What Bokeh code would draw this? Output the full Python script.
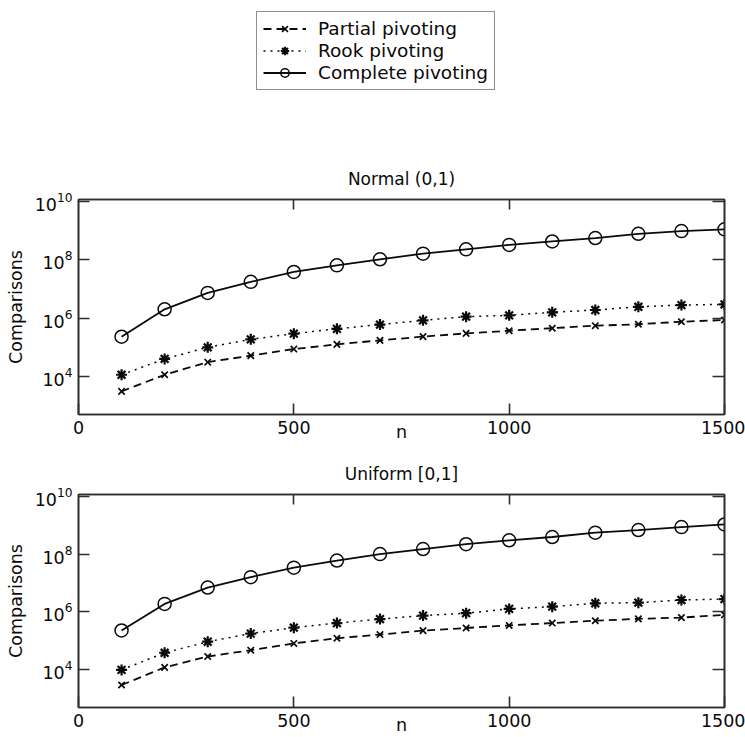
from bokeh.plotting import figure
from bokeh.models import Legend, LegendItem, LinearAxis, LogAxis, FixedTicker, LogTickFormatter
from bokeh.layouts import column
from bokeh.embed import file_html
from bokeh.resources import INLINE

# ---------------- data ----------------
n = [100, 200, 300, 400, 500, 600, 700, 800, 900, 1000, 1100, 1200, 1300, 1400, 1500]

normal_partial = [3.1e3, 1.15e4, 3.1e4, 5.2e4, 8.7e4, 1.26e5, 1.73e5, 2.32e5, 3.0e5,
                  3.7e5, 4.5e5, 5.5e5, 6.15e5, 7.5e5, 8.6e5]
normal_rook = [1.15e4, 4.0e4, 1.0e5, 1.87e5, 2.94e5, 4.3e5, 6.0e5, 8.4e5, 1.12e6,
               1.24e6, 1.58e6, 1.89e6, 2.44e6, 2.79e6, 2.95e6]
normal_complete = [2.3e5, 2.0e6, 7.3e6, 1.74e7, 3.8e7, 6.4e7, 1.03e8, 1.61e8, 2.26e8,
                   3.2e8, 4.2e8, 5.5e8, 7.7e8, 9.5e8, 1.09e9]

uniform_partial = [3.0e3, 1.22e4, 2.9e4, 4.8e4, 8.2e4, 1.24e5, 1.66e5, 2.27e5, 2.8e5,
                   3.44e5, 4.15e5, 5.0e5, 5.8e5, 6.4e5, 8.0e5]
uniform_rook = [1.0e4, 3.9e4, 9.4e4, 1.8e5, 2.87e5, 4.15e5, 5.7e5, 7.5e5, 9.1e5,
                1.28e6, 1.53e6, 2.0e6, 2.1e6, 2.6e6, 2.8e6]
uniform_complete = [2.3e5, 1.9e6, 7.0e6, 1.6e7, 3.4e7, 6.0e7, 1.0e8, 1.5e8, 2.2e8,
                    3.0e8, 3.9e8, 5.5e8, 6.8e8, 8.6e8, 1.06e9]

series_names = ["Partial pivoting", "Rook pivoting", "Complete pivoting"]
panel_titles = ["Normal (0,1)", "Uniform [0,1]"]
x_ticks = [0, 500, 1000, 1500]
inner_x_ticks = [500, 1000]
y_ticks = [1e4, 1e6, 1e8, 1e10]
x_label = "n"
y_label = "Comparisons"

FONT = "DejaVu Sans"
INK = "#0a0a0a"
FRAME = "#2e2e2e"

STYLES = {
    "Partial pivoting": dict(dash="8 5", marker="x", size=9, mlw=1.7, lw=1.8),
    "Rook pivoting": dict(dash="2 5", marker="asterisk", size=11, mlw=2.2, lw=1.5),
    "Complete pivoting": dict(dash="solid", marker="circle", size=13, mlw=1.5, lw=1.8),
}


def draw_series(p, xs, ys, name):
    st = STYLES[name]
    r_line = p.line(xs, ys, line_color=INK, line_width=st["lw"], line_dash=st["dash"])
    r_mark = p.scatter(xs, ys, marker=st["marker"], size=st["size"],
                       line_color=INK, fill_color=INK if st["marker"] != "circle" else None,
                       line_width=st["mlw"])
    return [r_line, r_mark]


def make_panel(title, partial, rook, complete, height, top, bottom, title_gap):
    p = figure(width=745, height=height, x_range=(0, 1500),
               y_range=(10 ** 2.70, 10 ** 10.06), y_axis_type="log",
               toolbar_location=None, output_backend="svg",
               min_border_left=78, min_border_right=21,
               min_border_top=top, min_border_bottom=bottom,
               background_fill_color="white", border_fill_color="white")
    p.outline_line_color = FRAME
    p.outline_line_width = 1.6
    p.grid.visible = False

    p.title.text = title
    p.title.align = "center"
    p.title.text_font = FONT
    p.title.text_font_size = "17px"
    p.title.text_font_style = "normal"
    p.title.text_color = INK
    p.title.standoff = title_gap

    for ax in p.xaxis:
        ax.ticker = FixedTicker(ticks=x_ticks)
        ax.axis_label = x_label
        ax.axis_label_standoff = -15
    for ax in p.yaxis:
        ax.ticker = FixedTicker(ticks=y_ticks)
        ax.formatter = LogTickFormatter()
        ax.axis_label = y_label
        ax.axis_label_standoff = 6

    for ax in p.xaxis + p.yaxis:
        ax.axis_line_color = FRAME
        ax.axis_line_width = 1.6
        ax.major_tick_in = 11
        ax.major_tick_out = 0
        ax.major_tick_line_color = FRAME
        ax.major_tick_line_width = 1.6
        ax.minor_tick_line_color = None
        ax.major_label_standoff = 6
        ax.major_label_text_font = FONT
        ax.major_label_text_font_size = "17.5px"
        ax.major_label_text_color = INK
        ax.axis_label_text_font = FONT
        ax.axis_label_text_font_size = "17.5px"
        ax.axis_label_text_font_style = "normal"
        ax.axis_label_text_color = INK

    # tick-only axes on the top and right sides (labels not drawn)
    top_axis = LinearAxis(ticker=FixedTicker(ticks=inner_x_ticks),
                          major_label_text_font_size="1px", major_label_text_color=None,
                          major_label_standoff=0,
                          major_tick_in=10, major_tick_out=0, major_tick_line_width=1.6,
                          major_tick_line_color=FRAME, minor_tick_line_color=None,
                          axis_line_color=FRAME, axis_line_width=1.6)
    p.add_layout(top_axis, "above")
    right_axis = LogAxis(ticker=FixedTicker(ticks=y_ticks),
                         major_label_text_font_size="1px", major_label_text_color=None,
                         major_label_standoff=0,
                         major_tick_in=12, major_tick_out=0, major_tick_line_width=1.6,
                         major_tick_line_color=FRAME, minor_tick_line_color=None,
                         axis_line_color=FRAME, axis_line_width=1.6)
    p.add_layout(right_axis, "right")

    draw_series(p, n, partial, series_names[0])
    draw_series(p, n, rook, series_names[1])
    draw_series(p, n, complete, series_names[2])
    return p


# ---------------- legend strip ----------------
leg_fig = figure(width=745, height=150, x_range=(0, 1), y_range=(0, 1),
                 x_axis_location=None, y_axis_location=None,
                 toolbar_location=None, output_backend="svg",
                 min_border=0, outline_line_color=None)
leg_fig.grid.visible = False
items = []
for name in series_names:
    st = STYLES[name]
    # key renderers only (placed outside the visible range)
    rl = leg_fig.line(x=[5, 6], y=[5, 6], line_color=INK, line_width=st["lw"], line_dash=st["dash"])
    rm = leg_fig.scatter(x=[5], y=[5], marker=st["marker"], size=st["size"], line_color=INK,
                         fill_color=INK if st["marker"] != "circle" else None,
                         line_width=st["mlw"])
    items.append(LegendItem(label=name, renderers=[rl, rm]))
legend = Legend(items=items, location=(178, 60), orientation="vertical",
                border_line_color="#222222", border_line_width=1.5,
                background_fill_color="white", background_fill_alpha=1.0,
                label_text_font=FONT, label_text_font_size="18.5px", label_text_color=INK,
                glyph_width=43, glyph_height=21, label_height=21,
                spacing=1, padding=6, margin=0, label_standoff=12)
leg_fig.add_layout(legend, "center")

p1 = make_panel(panel_titles[0], normal_partial, normal_rook, normal_complete,
                height=300, top=49, bottom=36, title_gap=21)
p2 = make_panel(panel_titles[1], uniform_partial, uniform_rook, uniform_complete,
                height=287, top=43, bottom=29, title_gap=22)

layout = column(leg_fig, p1, p2, spacing=0)
open("out.html", "w").write(file_html(layout, INLINE))
